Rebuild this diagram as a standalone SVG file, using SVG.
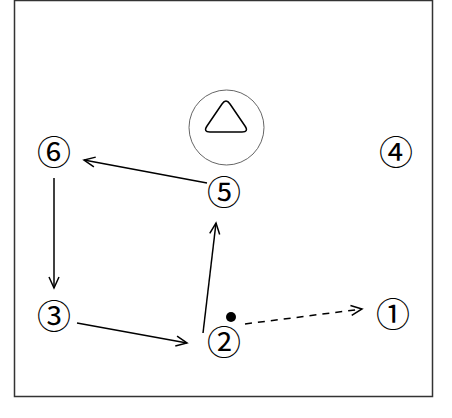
<svg xmlns="http://www.w3.org/2000/svg" width="452" height="418" viewBox="0 0 452 418">
<style>
.lbl{font-family:"Noto Sans CJK JP","Noto Sans CJK SC",sans-serif;font-size:34px;fill:#000;text-anchor:middle;dominant-baseline:central}
.c{stroke:#000;stroke-width:1.5;fill:none}
.d{stroke-dasharray:7,6}
</style>
<defs>
<marker id="ah" markerWidth="14" markerHeight="12" refX="12" refY="6" orient="auto" markerUnits="userSpaceOnUse">
<path d="M1,1 L12,6 L1,11" fill="none" stroke="#000" stroke-width="1.5"/>
</marker>
</defs>
<rect x="14.5" y="0.5" width="418" height="396" fill="#fff" stroke="#333" stroke-width="1.5"/>
<g id="hoop">
<circle cx="226.5" cy="127.5" r="37.5" fill="none" stroke="#666" stroke-width="1"/>
<path d="M222,104 Q226,98 230,104 L245,126 Q249,132 242,132 L210,132 Q203,132 207,126 Z" fill="none" stroke="#000" stroke-width="1.5"/>
</g>
<g id="n1"><text class="lbl" x="393" y="312">①</text></g>
<g id="n2"><text class="lbl" x="224" y="340">②</text></g>
<g id="n3"><text class="lbl" x="54" y="314">③</text></g>
<g id="n4"><text class="lbl" x="396" y="150">④</text></g>
<g id="n5"><text class="lbl" x="224" y="190">⑤</text></g>
<g id="n6"><text class="lbl" x="54" y="150">⑥</text></g>
<g id="ball"><circle cx="231" cy="317" r="5" fill="#000"/></g>
<g id="connectors">
<line class="c" x1="207" y1="183" x2="84" y2="160" marker-end="url(#ah)"/>
<line class="c" x1="54" y1="178" x2="54" y2="288" marker-end="url(#ah)"/>
<line class="c" x1="77" y1="323" x2="187" y2="343" marker-end="url(#ah)"/>
<line class="c" x1="203" y1="333" x2="216" y2="223" marker-end="url(#ah)"/>
<line class="c d" x1="245" y1="324" x2="362" y2="309" marker-end="url(#ah)"/>
</g>
</svg>
